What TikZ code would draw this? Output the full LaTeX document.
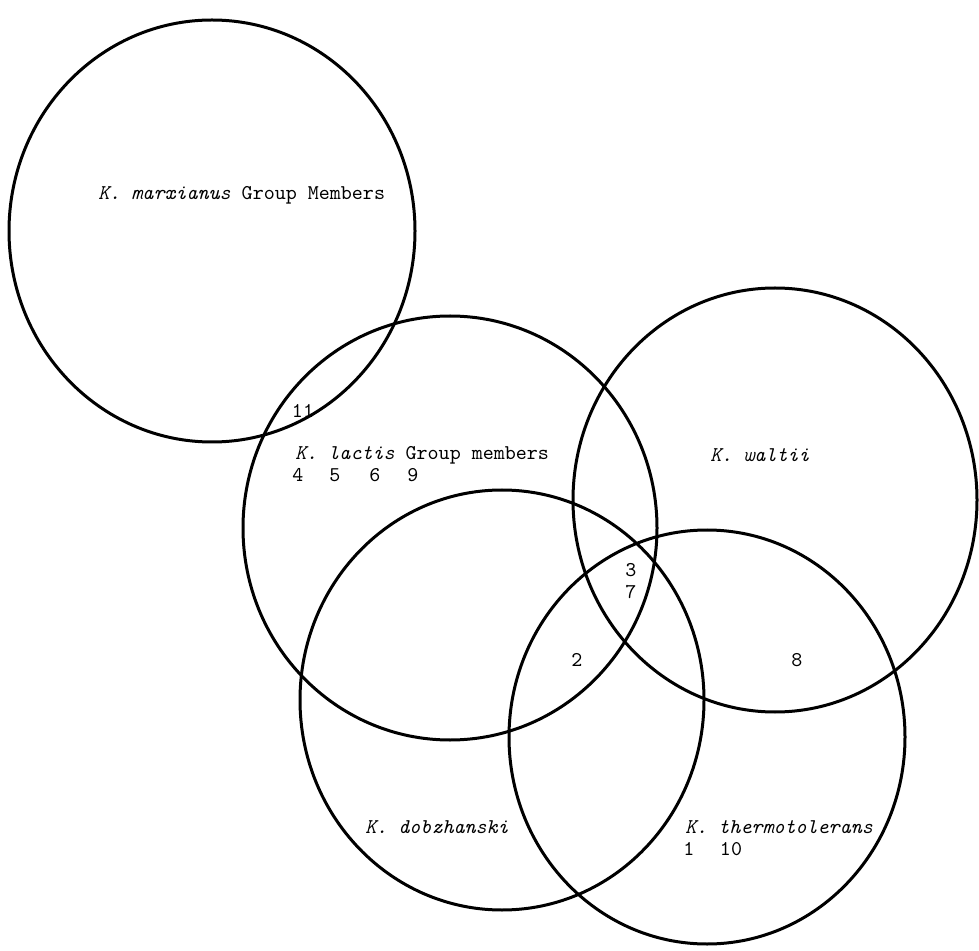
\documentclass[tikz,border=0pt]{standalone}
\usepackage{fontspec}
\begin{document}
\begin{tikzpicture}[x = 0.5pt, y = -0.5pt,
        set/.style = {line width = 1.5pt},
        lbl/.style = {anchor = west, inner sep = 0pt, font = \ttfamily\fontsize{10.5}{12}\selectfont},
        num/.style = {inner sep = 0pt, font = \ttfamily\fontsize{10.5}{12}\selectfont}]
        \useasboundingbox (0, 0) rectangle (979, 951);
        % the five groups
        \draw[set] (212, 231) ellipse [x radius = 101.5pt, y radius = 105.5pt];
        \draw[set] (450, 528) ellipse [x radius = 103.5pt, y radius = 106pt];
        \draw[set] (775, 500) ellipse [x radius = 101pt, y radius = 106pt];
        \draw[set] (502, 700) ellipse [x radius = 101pt, y radius = 105pt];
        \draw[set] (707, 737) ellipse [x radius = 99pt, y radius = 103.5pt];
        % group names
        \node[lbl] (marx) at (98, 195) {\textit{K. marxianus} Group Members};
        \node[lbl] (lactis) at (295, 455) {\textit{K. lactis} Group members};
        \node[lbl] (waltii) at (710, 455) {\textit{K. waltii}};
        \node[lbl] (dobz) at (365, 827) {\textit{K. dobzhanski}};
        \node[lbl] (thermo) at (685, 827) {\textit{K. thermotolerans}};
        % strain numbers
        \foreach \x/\n in {298/4, 335/5, 375/6, 413/9}
            \node[num] (lac\n) at (\x, 475) {\n};
        \node[num] (n11) at (303, 411) {11};
        \node[num] (n3) at (631, 570) {3};
        \node[num] (n7) at (631, 592) {7};
        \node[num] (n2) at (577, 660) {2};
        \node[num] (n8) at (797, 660) {8};
        \node[num] (n1) at (689, 849) {1};
        \node[num] (n10) at (731, 849) {10};
    \end{tikzpicture}
\end{document}
